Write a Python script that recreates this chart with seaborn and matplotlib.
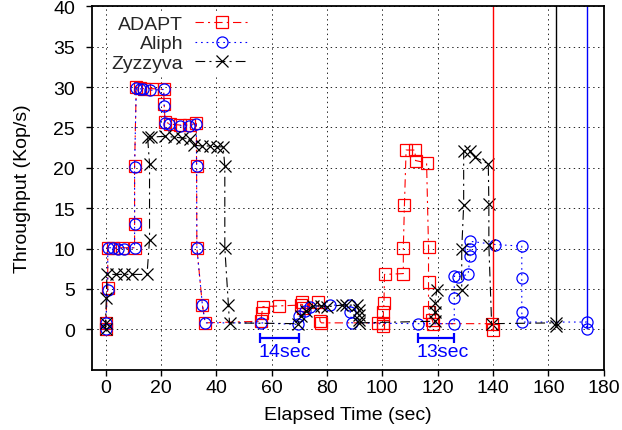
import matplotlib
matplotlib.use('Agg')
import matplotlib.pyplot as plt
import seaborn as sns

# ---------------- data ----------------
series_names = ['ADAPT', 'Aliph', 'Zyzzyva']

adapt_t = [0, 0, 0.8, 0.8, 2.7, 6.0, 10.5, 10.5, 10.5, 11.1, 12.5, 13.8, 16.8, 21.0,
           21.2, 21.5, 23.4, 26.8, 30.0, 32.8, 32.9, 33.0, 35.0, 36.0, 56.1, 56.5,
           56.8, 62.5, 70.5, 71.0, 71.2, 76.9, 77.5, 78.0, 98.5, 100.4, 100.4, 100.4,
           100.6, 100.8, 107.6, 107.6, 108.0, 108.6, 111.8, 112.0, 116.0, 116.7,
           116.7, 116.7, 118.0, 118.5, 139.7, 140.0]
adapt_v = [0.0, 0.8, 5.1, 10.1, 10.1, 10.1, 10.1, 13.1, 20.2, 30.0, 29.9, 29.8, 29.8,
           29.7, 27.9, 25.7, 25.4, 25.3, 25.3, 25.5, 20.2, 10.1, 3.0, 0.8, 1.0, 2.0,
           2.8, 2.9, 3.0, 3.4, 2.6, 3.4, 1.0, 0.8, 0.8, 0.4, 0.8, 2.2, 3.2, 6.8, 6.9,
           10.1, 15.4, 22.2, 22.2, 20.9, 20.6, 10.2, 5.9, 2.1, 1.2, 0.7, 0.7, -0.1]

aliph_t = [0, 0, 0.8, 0.8, 2.7, 4.5, 6.5, 10.5, 10.5, 10.5, 11.1, 12.3, 13.5, 16.0,
           21.0, 21.2, 21.5, 23.0, 26.8, 30.0, 32.8, 32.9, 33.0, 35.0, 36.0, 56.0,
           69.6, 70.0, 72.1, 74.0, 81.2, 88.4, 88.4, 89.0, 113.0, 126.0, 126.0,
           126.0, 127.5, 131.0, 131.7, 131.7, 131.7, 140.8, 150.4, 150.4, 150.4,
           150.6, 173.8, 173.8]
aliph_v = [0.0, 0.8, 4.9, 10.1, 10.1, 10.0, 10.0, 10.1, 13.1, 20.1, 29.9, 29.8, 29.7,
           29.6, 29.7, 27.6, 25.6, 25.4, 25.2, 25.2, 25.4, 20.2, 10.1, 3.0, 0.8, 0.8,
           0.6, 1.6, 2.3, 2.8, 3.0, 3.0, 2.2, 0.8, 0.7, 0.7, 3.9, 6.6, 6.5, 6.8, 9.1,
           9.9, 10.9, 10.5, 10.3, 6.4, 2.1, 0.9, 0.9, 0.0]

zyz_t = [0, 0, 0.3, 0.5, 3.9, 6.5, 9.6, 15.0, 15.9, 15.9, 15.2, 16.3, 21.4, 24.6,
         27.6, 30.6, 31.8, 34.8, 37.7, 40.1, 42.5, 43.1, 43.1, 44.4, 44.8, 69.6,
         70.5, 72.5, 75.0, 77.7, 80.0, 85.4, 87.0, 90.8, 91.5, 91.5, 91.5, 91.5,
         119.0, 119.0, 119.0, 119.7, 128.7, 128.7, 129.4, 129.4, 131.8, 133.5,
         138.3, 138.5, 138.5, 139.5, 162.7, 162.7]
zyz_v = [0.0, 0.8, 3.9, 6.8, 6.8, 6.8, 6.8, 6.8, 11.1, 20.5, 23.8, 23.8, 23.9, 23.8,
         23.7, 23.6, 22.8, 22.7, 22.7, 22.6, 22.6, 20.2, 10.1, 3.0, 0.8, 0.7, 1.6,
         2.3, 2.9, 2.9, 2.8, 3.0, 3.0, 3.0, 2.4, 1.8, 1.2, 0.8, 1.0, 2.1, 3.2, 4.9,
         4.9, 9.9, 15.4, 22.1, 22.1, 21.3, 20.5, 15.5, 10.4, 0.7, 0.8, 0.4]

end_times = [140.0, 173.8, 162.7]          # run ends (vertical markers)
bracket_starts = [55.9, 112.9]
bracket_lengths = [14, 13]
bracket_labels = ['14sec', '13sec']

x_ticks = list(range(0, 181, 20))
y_ticks = list(range(0, 41, 5))

# ---------------- style ----------------
sns.set_theme(style='white')
plt.rcParams['font.family'] = ['Liberation Sans', 'DejaVu Sans']
plt.rcParams['lines.scale_dashes'] = False

FS = 14
colors = ['#ff0000', '#0000ff', '#000000']
markers = ['s', 'o', 'x']
linestyles = [(0, (6, 3, 1.5, 3)), (0, (1.2, 2.8)), (0, (7, 3, 1.5, 3))]
series_t = [adapt_t, aliph_t, zyz_t]
series_v = [adapt_v, aliph_v, zyz_v]

fig = plt.figure(figsize=(6.22, 4.31), dpi=100)
ax = fig.add_axes([0.1474, 0.1399, 0.8232, 0.8432])

ymax = 40
for name, t, v, c, m, ls in zip(series_names, series_t, series_v, colors, markers, linestyles):
    sns.lineplot(x=t, y=v, sort=False, estimator=None, ax=ax, label=name,
                 color=c, linestyle=ls, linewidth=0.8, marker=m, markersize=8,
                 markerfacecolor='none', markeredgecolor=c, markeredgewidth=0.9)

# end-of-run vertical lines
for t_end, v, c in zip(end_times, [adapt_v[-1], aliph_v[-1], zyz_v[-1]], colors):
    ax.vlines(t_end, v, ymax + 1, colors=c, linewidth=1.0)

# brackets with labels
for s, d, lab in zip(bracket_starts, bracket_lengths, bracket_labels):
    ax.errorbar(x=[s + d / 2], y=[-1.1], xerr=[d / 2], fmt='none', ecolor='#0000ff',
                elinewidth=1.6, capsize=3.6, capthick=1.6)
    ax.text(s - 0.7, -2.8, lab, color='#0000ff', fontsize=FS, ha='left', va='center')

ax.set_xlim(-5, 180)
ax.set_ylim(-5, 40)
ax.set_xticks(x_ticks)
ax.set_yticks(y_ticks)
ax.grid(True, color='black', linestyle=(0, (1, 2.5)), linewidth=0.6)
ax.set_axisbelow(True)
for sp in ax.spines.values():
    sp.set_color('black')
    sp.set_linewidth(1.3)
ax.tick_params(direction='out', length=4, width=1, labelsize=FS, colors='black',
               left=True, bottom=True)
ax.tick_params(axis='y', pad=8)
ax.tick_params(axis='x', pad=3)
ax.set_xlabel('Elapsed Time (sec)', fontsize=FS, color='black', labelpad=7)
ax.set_ylabel('Throughput (Kop/s)', fontsize=FS, color='black', labelpad=16)

handles, labels = ax.get_legend_handles_labels()
leg = ax.legend(handles, labels, loc='upper right', bbox_to_anchor=(0.314, 0.985),
                markerfirst=False, frameon=True, facecolor='white', edgecolor='none',
                framealpha=1, fontsize=FS, handlelength=2.73, handletextpad=0.62,
                labelspacing=0.08, borderpad=0.2, borderaxespad=0)
leg.get_frame().set_boxstyle('square', pad=0)

fig.savefig('out.png', dpi=100)
